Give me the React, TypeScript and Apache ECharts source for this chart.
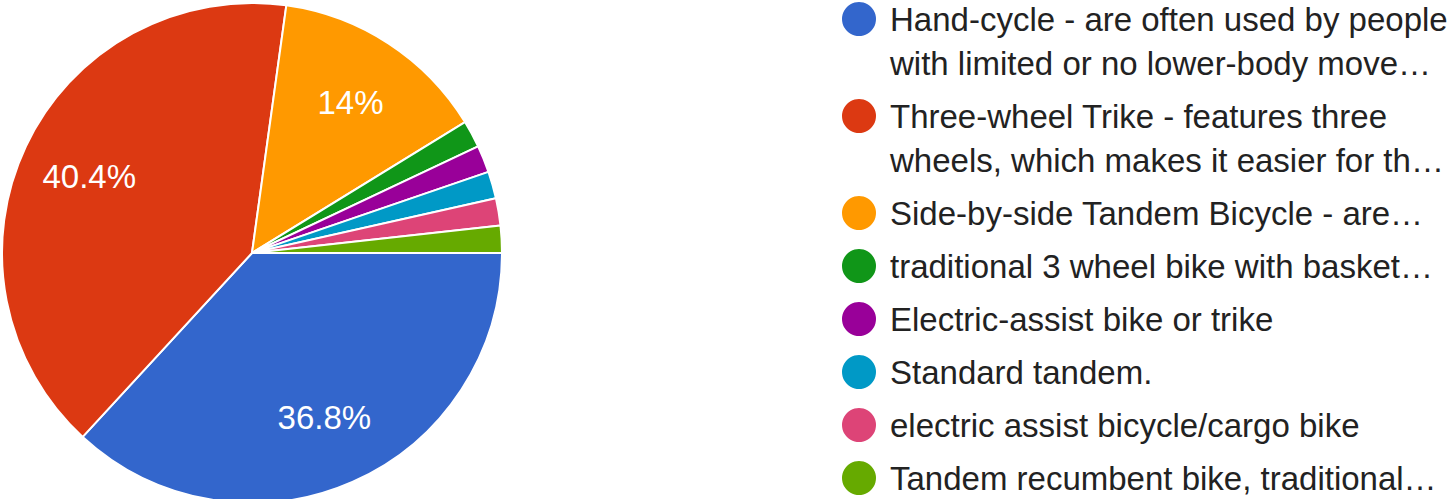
import React, { useEffect, useRef } from "react";
import * as echarts from "echarts";

const categories: string[] = [
  "Hand-cycle - are often used by people\nwith limited or no lower-body move…",
  "Three-wheel Trike - features three\nwheels, which makes it easier for th…",
  "Side-by-side Tandem Bicycle - are…",
  "traditional 3 wheel bike with basket…",
  "Electric-assist bike or trike",
  "Standard tandem.",
  "electric assist bicycle/cargo bike",
  "Tandem recumbent bike, traditional…",
];

const counts: number[] = [21, 23, 8, 1, 1, 1, 1, 1];

const colors: string[] = [
  "#3366cc",
  "#dc3912",
  "#ff9900",
  "#109618",
  "#990099",
  "#0099c6",
  "#dd4477",
  "#66aa00",
];

const FONT = "'Liberation Sans', Arial, Helvetica, sans-serif";

export default function App() {
  const ref = useRef<HTMLDivElement>(null);

  useEffect(() => {
    if (!ref.current) return;
    const chart = echarts.init(ref.current, undefined, { renderer: "svg" });
    const total = counts.reduce((a, b) => a + b, 0);
    const data = categories.map((c, i) => ({
      name: c,
      value: counts[i],
      itemStyle: { color: colors[i] },
    }));

    // legend built with graphic elements (circle aligned to first line)
    const legendEls: any[] = [];
    let y = 19;
    const lineGap = 44;
    const itemStep = 53;
    categories.forEach((c, i) => {
      const lines = c.split("\n");
      legendEls.push({
        type: "circle",
        x: 859,
        y: y,
        shape: { cx: 0, cy: 0, r: 17 },
        style: { fill: colors[i] },
        silent: true,
      });
      lines.forEach((ln, j) => {
        legendEls.push({
          type: "text",
          x: 890,
          y: y + j * lineGap,
          style: {
            text: ln,
            fill: "#222222",
            fontSize: 33,
            fontFamily: FONT,
            align: "left",
            verticalAlign: "middle",
          },
          silent: true,
        });
      });
      y += (lines.length - 1) * lineGap + itemStep;
    });

    const fmtPct = (v: number) => {
      const p = (v / total) * 100;
      if (p < 5) return "";
      let s = p.toFixed(1);
      if (s.endsWith(".0")) s = s.slice(0, -2);
      return s + "%";
    };

    chart.setOption({
      animation: false,
      backgroundColor: "#ffffff",
      textStyle: { fontFamily: FONT },
      graphic: legendEls,
      series: [
        {
          type: "pie",
          name: "main",
          center: [252, 253],
          radius: [0, 250],
          startAngle: 0,
          clockwise: true,
          silent: true,
          label: { show: false },
          labelLine: { show: false },
          itemStyle: { borderColor: "#ffffff", borderWidth: 2 },
          data,
        },
        {
          type: "pie",
          name: "labels",
          center: [252, 253],
          radius: [104, 250],
          startAngle: 0,
          clockwise: true,
          silent: true,
          avoidLabelOverlap: false,
          itemStyle: { color: "rgba(0,0,0,0)", borderWidth: 0 },
          labelLine: { show: false },
          label: {
            show: true,
            position: "inside",
            color: "#ffffff",
            fontSize: 33,
            fontFamily: FONT,
            formatter: (p: any) => fmtPct(p.value),
          },
          data: categories.map((c, i) => ({ name: c, value: counts[i] })),
        },
      ],
    });
    return () => chart.dispose();
  }, []);

  return (
    <div
      ref={ref}
      style={{ position: "absolute", left: 0, top: 0, width: 1450, height: 499 }}
    />
  );
}
